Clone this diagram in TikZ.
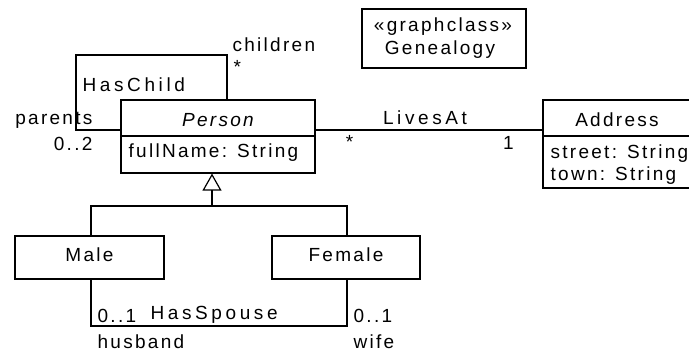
\documentclass[tikz,border=0pt]{standalone}
\usepackage{fontspec}
\setmainfont{Liberation Sans}[LetterSpace=12]
\newfontfamily\assocfont{Liberation Sans}[LetterSpace=19]
\usetikzlibrary{arrows.meta}
\begin{document}
\begin{tikzpicture}[x=1pt,y=-1pt,line width=1.2pt,
  every node/.style={font=\fontsize{19}{22}\selectfont},
  umlbox/.style={draw,line width=1.2pt,inner sep=0pt},
  txt/.style={inner sep=0pt,anchor=base},
  txtl/.style={inner sep=0pt,anchor=base west},
  txtr/.style={inner sep=0pt,anchor=base east},
  assoc/.style={font=\fontsize{19}{22}\assocfont}]
\useasboundingbox (0,0) rectangle (689,352);
% boxes
\node[umlbox,minimum width=194pt,minimum height=73pt] (person) at (218,136.5) {};
\node[umlbox,minimum width=147pt,minimum height=88pt] (address) at (616.5,144) {};
\node[umlbox,minimum width=164pt,minimum height=59pt] (genealogy) at (444,38.5) {};
\node[umlbox,minimum width=149pt,minimum height=43pt] (male) at (89.5,257.5) {};
\node[umlbox,minimum width=148pt,minimum height=43pt] (female) at (346,257.5) {};
\draw (person.west |- 0,136) -- (person.east |- 0,136);
\draw (address.west |- 0,136) -- (address.east |- 0,136);
% box texts
\node[txt] (personname) at (218,127) {\itshape Person};
\node[txtl] (personattr) at (128,158) {fullName: String};
\node[txt] (addressname) at (617,127) {Address};
\node[txtl] (street) at (550,159) {street: String};
\node[txtl] (town) at (550,181) {town: String};
\node[txt] (stereo) at (443,32) {«graphclass»};
\node[txt] (gname) at (440,55) {Genealogy};
\node[txt] (malename) at (89.5,262) {Male};
\node[txt] (femalename) at (346,262) {Female};
% HasChild
\coordinate (hc1) at (76,130);
\coordinate (hc2) at (76,55);
\coordinate (hc3) at (227,55);
\draw (person.west |- hc1) -- (hc1) -- (hc2) -- (hc3) -- (hc3 |- person.north);
\node[txtl] (children) at (232,52) {children};
\node[txtl] (childmult) at (233,74) {*};
\node[txtl,assoc] (haschild) at (82,92) {HasChild};
\node[txtr] (parents) at (93,125) {parents};
\node[txtr] (parmult) at (93,151) {0..2};
% LivesAt
\draw (person.east |- hc1) -- (address.west |- hc1);
\node[txt,assoc] (livesat) at (425,125) {LivesAt};
\node[txt] (lamult1) at (349.5,149) {*};
\node[txt] (lamult2) at (508.5,150) {1};
% generalization
\coordinate (gen) at (212,206);
\draw (male.north -| 91,0) |- (gen) -| (female.north -| 347,0);
\draw[-{Triangle[open,length=17pt,width=19pt]}] (gen) -- (gen |- person.south);
% HasSpouse
\coordinate (hs1) at (91,326);
\coordinate (hs2) at (347,326);
\draw (male.south -| hs1) -- (hs1) -- (hs2) -- (female.south -| hs2);
\node[txtl] (hmult) at (97,323) {0..1};
\node[txtl,assoc] (hasspouse) at (150,320) {HasSpouse};
\node[txtl] (wmult) at (353,323) {0..1};
\node[txtl] (husband) at (97,348.5) {husband};
\node[txtl] (wife) at (353,348.5) {wife};
\end{tikzpicture}
\end{document}
